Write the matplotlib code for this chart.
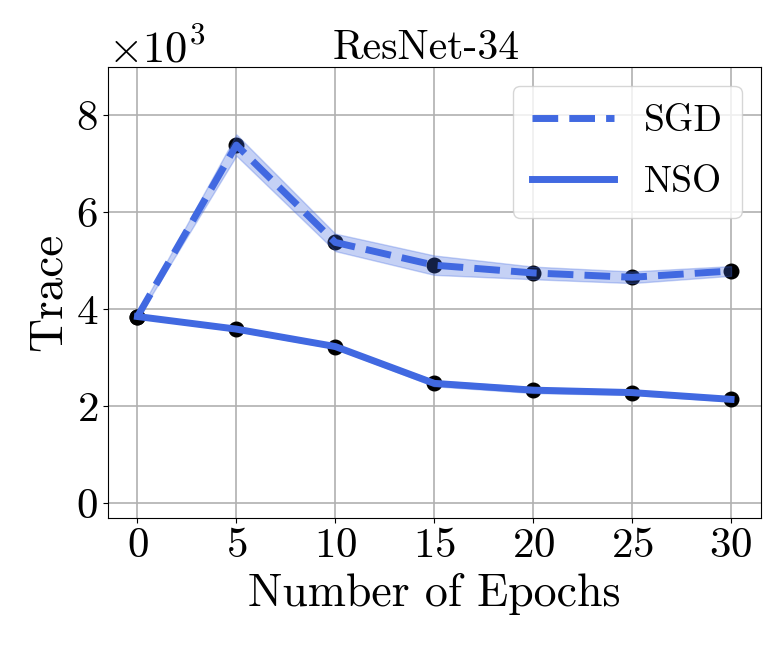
import matplotlib
matplotlib.use('Agg')
import matplotlib.pyplot as plt
import numpy as np

# data
epochs = [0, 5, 10, 15, 20, 25, 30]
sgd_trace = [3850, 7390, 5380, 4910, 4750, 4660, 4790]
sgd_std = [40, 220, 180, 200, 130, 120, 100]
nso_trace = [3850, 3590, 3230, 2470, 2330, 2280, 2140]
nso_std = [30, 40, 40, 60, 60, 50, 40]

plt.rcParams['font.family'] = ['cmr10', 'DejaVu Serif']
plt.rcParams['mathtext.fontset'] = 'cm'
plt.rcParams['axes.formatter.use_mathtext'] = True
plt.rcParams['axes.unicode_minus'] = False

color = 'royalblue'

fig = plt.figure(figsize=(7.81, 6.51), dpi=100)
ax = fig.add_axes([0.138, 0.205, 0.836, 0.692])

x = np.array(epochs)
sgd = np.array(sgd_trace)
nso = np.array(nso_trace)

# markers go under the lines
ax.scatter(x, sgd, s=110, color='black', zorder=2)
ax.scatter(x, nso, s=110, color='black', zorder=2)

ax.fill_between(x, sgd - np.array(sgd_std), sgd + np.array(sgd_std),
                color=color, alpha=0.3, zorder=3)
ax.fill_between(x, nso - np.array(nso_std), nso + np.array(nso_std),
                color=color, alpha=0.3, zorder=3)
ax.plot(x, sgd, '--', color=color, lw=5, label='SGD', zorder=4)
ax.plot(x, nso, '-', color=color, lw=5, label='NSO', zorder=4)

ax.set_xlim(-1.5, 31.5)
ax.set_ylim(-300, 9000)
ax.set_xticks(epochs)
ax.set_yticks([0, 2000, 4000, 6000, 8000])
ax.ticklabel_format(axis='y', style='sci', scilimits=(3, 3))
ax.tick_params(labelsize=31)
ax.yaxis.get_offset_text().set_fontsize(32)
ax.grid(True, color='#b0b0b0', lw=1.2)
ax.set_axisbelow(True)

ax.set_title('ResNet-34', fontsize=30, x=0.487)
ax.set_xlabel('Number of Epochs', fontsize=33, labelpad=6)
ax.set_ylabel('Trace', fontsize=34)
ax.legend(loc='upper right', fontsize=27, handlelength=2.2,
          labelspacing=0.75, borderpad=0.5)

fig.savefig('out.png', dpi=100)
